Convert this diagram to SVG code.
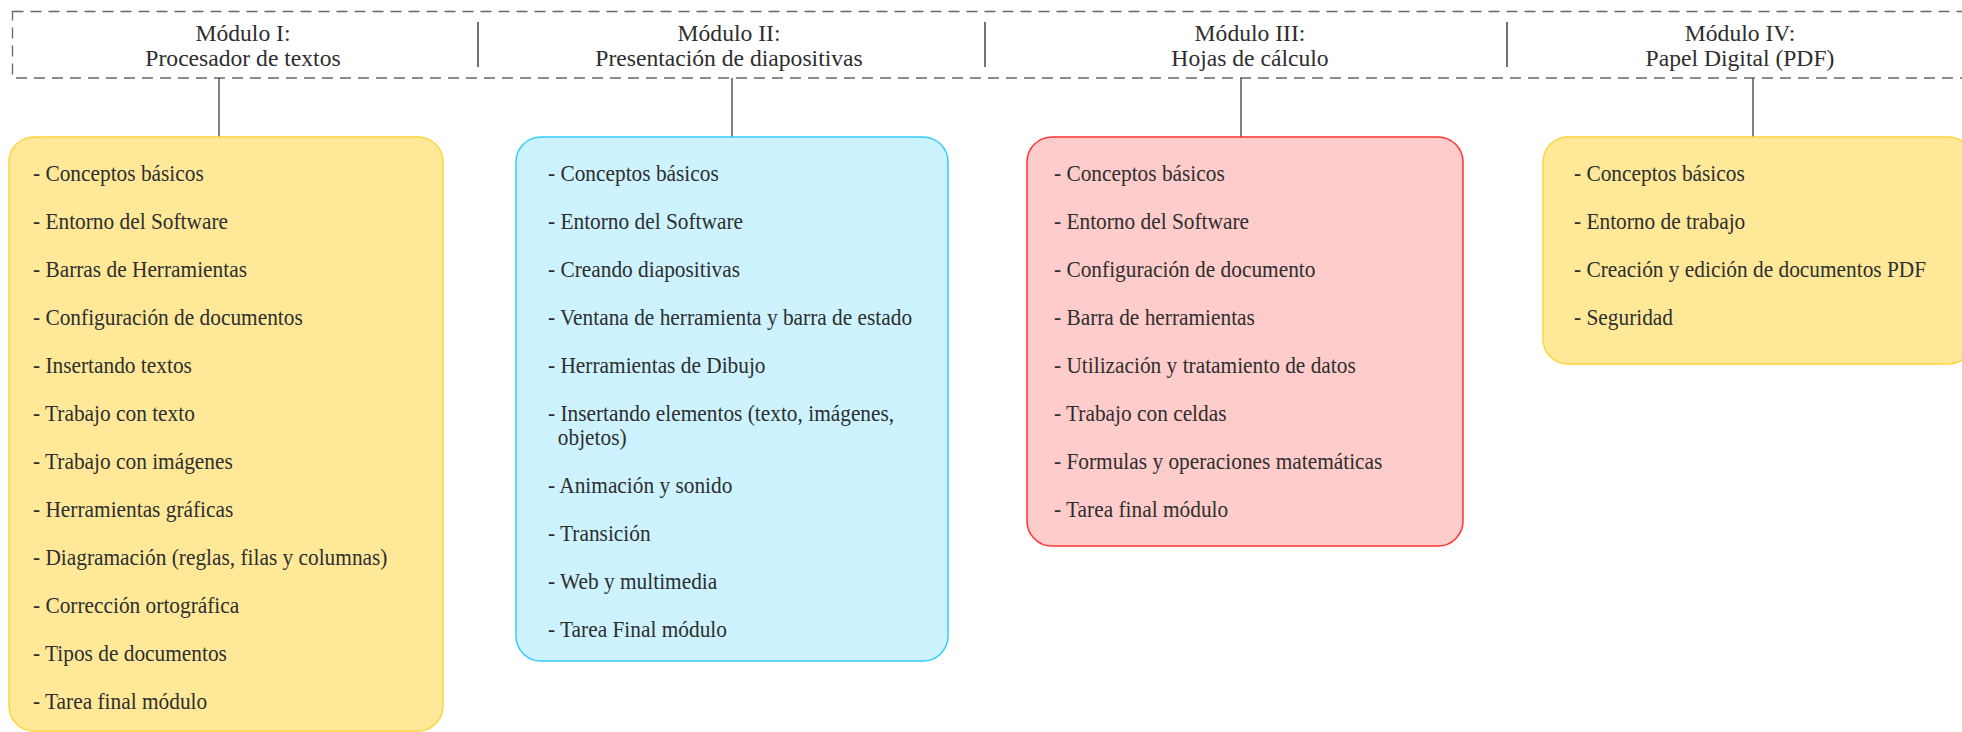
<svg xmlns="http://www.w3.org/2000/svg" width="1962" height="732" viewBox="0 0 1962 732">
<style>
.t{font-family:"Liberation Serif","Times New Roman",serif;fill:#2e2e2e;}
.ttl{font-size:22.5px;text-anchor:middle;}
.it{font-size:24px;}
.frame{fill:none;stroke:#666;stroke-width:1.3;stroke-dasharray:11 7;}
.sep{stroke:#444;stroke-width:1.5;}
.con{stroke:#555;stroke-width:1.5;fill:none;}
.y{fill:#FFE999;stroke:#FFD43B;stroke-width:1.5;}
.c{fill:#CCF3FF;stroke:#33CCFF;stroke-width:1.5;}
.r{fill:#FFCCCC;stroke:#FF3333;stroke-width:1.5;}
</style>
<rect width="1962" height="732" fill="#fff"/>
<g id="header">
<rect class="frame" x="12.5" y="11.5" width="1990" height="66.5"/>
<line class="sep" x1="478" y1="22" x2="478" y2="67"/>
<line class="sep" x1="985" y1="22" x2="985" y2="67"/>
<line class="sep" x1="1507" y1="22" x2="1507" y2="67"/>
<g class="t ttl">
<text transform="translate(243 41) scale(1.05 1)"><tspan x="0">Módulo I:</tspan><tspan x="0" dy="25">Procesador de textos</tspan></text>
<text transform="translate(729 41) scale(1.05 1)"><tspan x="0">Módulo II:</tspan><tspan x="0" dy="25">Presentación de diapositivas</tspan></text>
<text transform="translate(1250 41) scale(1.05 1)"><tspan x="0">Módulo III:</tspan><tspan x="0" dy="25">Hojas de cálculo</tspan></text>
<text transform="translate(1740 41) scale(1.05 1)"><tspan x="0">Módulo IV:</tspan><tspan x="0" dy="25">Papel Digital (PDF)</tspan></text>
</g>
</g>
<g id="connectors">
<line class="con" x1="219" y1="78" x2="219" y2="137"/>
<line class="con" x1="732" y1="78" x2="732" y2="137"/>
<line class="con" x1="1241" y1="78" x2="1241" y2="137"/>
<line class="con" x1="1753" y1="78" x2="1753" y2="137"/>
</g>
<g id="modulo1">
<rect class="y" x="9" y="137" width="434" height="594" rx="25"/>
<g class="t it">
<text transform="translate(33 181) scale(0.89 1)">- Conceptos básicos</text>
<text transform="translate(33 229) scale(0.89 1)">- Entorno del Software</text>
<text transform="translate(33 277) scale(0.89 1)">- Barras de Herramientas</text>
<text transform="translate(33 325) scale(0.89 1)">- Configuración de documentos</text>
<text transform="translate(33 373) scale(0.89 1)">- Insertando textos</text>
<text transform="translate(33 421) scale(0.89 1)">- Trabajo con texto</text>
<text transform="translate(33 469) scale(0.89 1)">- Trabajo con imágenes</text>
<text transform="translate(33 517) scale(0.89 1)">- Herramientas gráficas</text>
<text transform="translate(33 565) scale(0.89 1)">- Diagramación (reglas, filas y columnas)</text>
<text transform="translate(33 613) scale(0.89 1)">- Corrección ortográfica</text>
<text transform="translate(33 661) scale(0.89 1)">- Tipos de documentos</text>
<text transform="translate(33 709) scale(0.89 1)">- Tarea final módulo</text>
</g>
</g>
<g id="modulo2">
<rect class="c" x="516" y="137" width="432" height="524" rx="25"/>
<g class="t it">
<text transform="translate(548 181) scale(0.89 1)">- Conceptos básicos</text>
<text transform="translate(548 229) scale(0.89 1)">- Entorno del Software</text>
<text transform="translate(548 277) scale(0.89 1)">- Creando diapositivas</text>
<text transform="translate(548 325) scale(0.89 1)">- Ventana de herramienta y barra de estado</text>
<text transform="translate(548 373) scale(0.89 1)">- Herramientas de Dibujo</text>
<text transform="translate(548 421) scale(0.89 1)"><tspan x="0">- Insertando elementos (texto, imágenes,</tspan><tspan x="11" dy="24">objetos)</tspan></text>
<text transform="translate(548 493) scale(0.89 1)">- Animación y sonido</text>
<text transform="translate(548 541) scale(0.89 1)">- Transición</text>
<text transform="translate(548 589) scale(0.89 1)">- Web y multimedia</text>
<text transform="translate(548 637) scale(0.89 1)">- Tarea Final módulo</text>
</g>
</g>
<g id="modulo3">
<rect class="r" x="1027" y="137" width="436" height="409" rx="25"/>
<g class="t it">
<text transform="translate(1054 181) scale(0.89 1)">- Conceptos básicos</text>
<text transform="translate(1054 229) scale(0.89 1)">- Entorno del Software</text>
<text transform="translate(1054 277) scale(0.89 1)">- Configuración de documento</text>
<text transform="translate(1054 325) scale(0.89 1)">- Barra de herramientas</text>
<text transform="translate(1054 373) scale(0.89 1)">- Utilización y tratamiento de datos</text>
<text transform="translate(1054 421) scale(0.89 1)">- Trabajo con celdas</text>
<text transform="translate(1054 469) scale(0.89 1)">- Formulas y operaciones matemáticas</text>
<text transform="translate(1054 517) scale(0.89 1)">- Tarea final módulo</text>
</g>
</g>
<g id="modulo4">
<rect class="y" x="1543" y="137" width="430" height="227" rx="25"/>
<g class="t it">
<text transform="translate(1574 181) scale(0.89 1)">- Conceptos básicos</text>
<text transform="translate(1574 229) scale(0.89 1)">- Entorno de trabajo</text>
<text transform="translate(1574 277) scale(0.89 1)">- Creación y edición de documentos PDF</text>
<text transform="translate(1574 325) scale(0.89 1)">- Seguridad</text>
</g>
</g>
</svg>
